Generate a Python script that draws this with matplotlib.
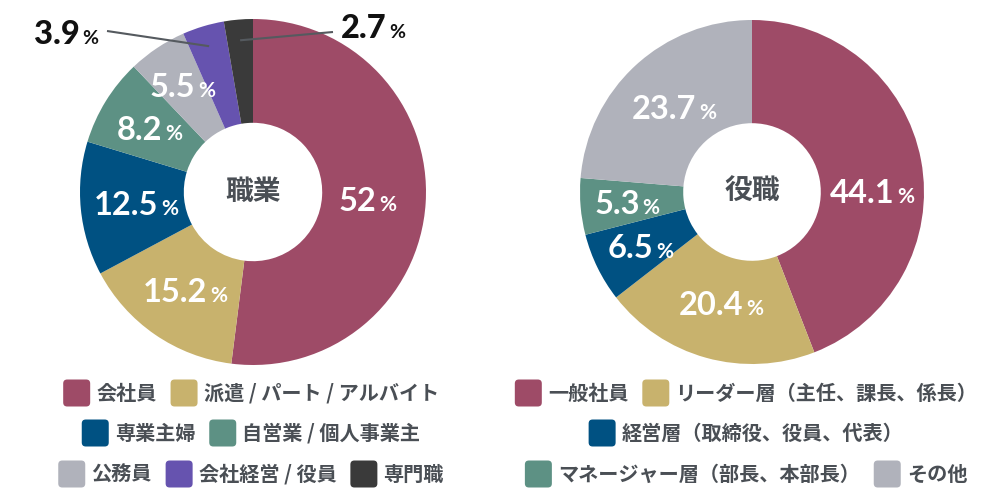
import matplotlib
matplotlib.use('Agg')
import matplotlib.pyplot as plt
from matplotlib.patches import FancyBboxPatch
from matplotlib.transforms import offset_copy
import numpy as np

plt.rcParams['font.family'] = ['Noto Sans CJK JP', 'DejaVu Sans']

# ---------------- data ----------------
job_title = '職業'
job_labels = ['会社員', '派遣 / パート / アルバイト', '専業主婦', '自営業 / 個人事業主',
              '公務員', '会社経営 / 役員', '専門職']
job_values = [52, 15.2, 12.5, 8.2, 5.5, 3.9, 2.7]
job_texts = ['52', '15.2', '12.5', '8.2', '5.5', '3.9', '2.7']

role_title = '役職'
role_labels = ['一般社員', 'リーダー層（主任、課長、係長）', '経営層（取締役、役員、代表）',
               'マネージャー層（部長、本部長）', 'その他']
role_values = [44.1, 20.4, 6.5, 5.3, 23.7]
role_texts = ['44.1', '20.4', '6.5', '5.3', '23.7']

C_MAROON = '#9e4b67'
C_GOLD = '#c8b26d'
C_NAVY = '#005182'
C_TEAL = '#5d9184'
C_GRAY = '#b0b2bb'
C_PURPLE = '#6653af'
C_DARK = '#3a3a3a'
job_colors = [C_MAROON, C_GOLD, C_NAVY, C_TEAL, C_GRAY, C_PURPLE, C_DARK]
role_colors = [C_MAROON, C_GOLD, C_NAVY, C_TEAL, C_GRAY]

TXT = '#4a4f55'
NUMFONT = ['Lato', 'DejaVu Sans']

fig = plt.figure(figsize=(10, 5), dpi=100)
W, H = 1000, 500
renderer = fig.canvas.get_renderer()


def make_axes(cx, cy, r):
    ax = fig.add_axes([(cx - r) / W, (H - cy - r) / H, 2 * r / W, 2 * r / H])
    return ax


def pct_label(ax, x, y, num, color, size=23.5, psize=15, gap=3, weight='bold'):
    tn = ax.text(x, y, num, fontsize=size, family=NUMFONT, weight=weight,
                 color=color, ha='left', va='baseline')
    tp = ax.text(x, y, '%', fontsize=psize, family=NUMFONT, weight='bold',
                 color=color, ha='left', va='baseline')
    wn = tn.get_window_extent(renderer).width
    wp = tp.get_window_extent(renderer).width
    total = wn + gap + wp
    cap = 0.72 * size * fig.dpi / 72
    tn.set_transform(offset_copy(ax.transData, fig, x=-total / 2, y=-cap / 2, units='dots'))
    tp.set_transform(offset_copy(ax.transData, fig, x=-total / 2 + wn + gap, y=-cap / 2, units='dots'))
    return tn, tp


def donut(cx, cy, r, values, colors, texts, title, inner_r, angle_override=None,
          outside=None):
    ax = make_axes(cx, cy, r)
    wedges, _ = ax.pie(values, colors=colors, startangle=90, counterclock=False,
                       radius=1, wedgeprops=dict(width=0.6, linewidth=0))
    ax.set_xlim(-1, 1)
    ax.set_ylim(-1, 1)
    ax.set_aspect('equal')
    ax.axis('off')
    for i, w in enumerate(wedges):
        ang = np.deg2rad((w.theta1 + w.theta2) / 2)
        if angle_override and i in angle_override:
            ang = np.deg2rad(angle_override[i])
        if outside and i in outside:
            tx, ty, lx, ly = outside[i]
            ex, ey = 0.88 * np.cos(ang), 0.88 * np.sin(ang)
            ax.plot([lx, ex], [ly, ey], color='#555a5f', lw=1.5,
                    solid_capstyle='butt', clip_on=False)
            pct_label(ax, tx, ty, texts[i], '#111111', size=23.5, psize=14,
                      weight='black')
        else:
            rr = inner_r[i] if isinstance(inner_r, (list, tuple)) else inner_r
            pct_label(ax, rr * np.cos(ang), rr * np.sin(ang), texts[i], 'white')
    ax.text(0, 0, title, fontsize=20, weight='bold', color=TXT, ha='center',
            va='center')
    return ax


# left donut
L_CX, L_CY, L_R = 253, 192, 173
def lpx(px, py):
    return (px - L_CX) / L_R, (L_CY - py) / L_R

t39 = lpx(66, 32) + lpx(107, 31)
t27 = lpx(373, 26) + lpx(333, 32)
donut(L_CX, L_CY, L_R, job_values, job_colors, job_texts, job_title,
      [0.66, 0.69, 0.68, 0.70, 0.74, 0.7, 0.7],
      outside={5: t39, 6: t27})

# right donut
R_CX, R_CY, R_R = 752, 192, 172
donut(R_CX, R_CY, R_R, role_values, role_colors, role_texts, role_title,
      [0.70, 0.67, 0.72, 0.73, 0.67], angle_override={0: 0.5})


# ---------------- legends ----------------
SQ = 27
def legend_row(items, colors, center_x, y_center):
    texts = []
    widths = []
    for lab in items:
        t = fig.text(0, 0, lab, fontsize=14.5, weight='bold', color=TXT,
                     ha='left', va='center')
        texts.append(t)
        widths.append(t.get_window_extent(renderer).width)
    g1, g2 = 6, 14
    total = sum(SQ + g1 + w for w in widths) + g2 * (len(items) - 1)
    x = center_x - total / 2
    for t, w, c in zip(texts, widths, colors):
        patch = FancyBboxPatch(((x) / W, (H - y_center - SQ / 2) / H), SQ / W, SQ / H,
                               boxstyle='round,pad=0,rounding_size=0.004',
                               transform=fig.transFigure, facecolor=c,
                               edgecolor='none', mutation_aspect=2)
        fig.patches.append(patch)
        t.set_position(((x + SQ + g1) / W, (H - y_center) / H))
        x += SQ + g1 + w + g2


legend_rows_left = [[0, 1], [2, 3], [4, 5, 6]]
legend_rows_right = [[0, 1], [2], [3, 4]]
row_y = [393, 433, 474]
for ri, row in enumerate(legend_rows_left):
    legend_row([job_labels[i] for i in row], [job_colors[i] for i in row], 251, row_y[ri])
for ri, row in enumerate(legend_rows_right):
    legend_row([role_labels[i] for i in row], [role_colors[i] for i in row], 746, row_y[ri])

fig.savefig('out.png', dpi=100, facecolor='white')
